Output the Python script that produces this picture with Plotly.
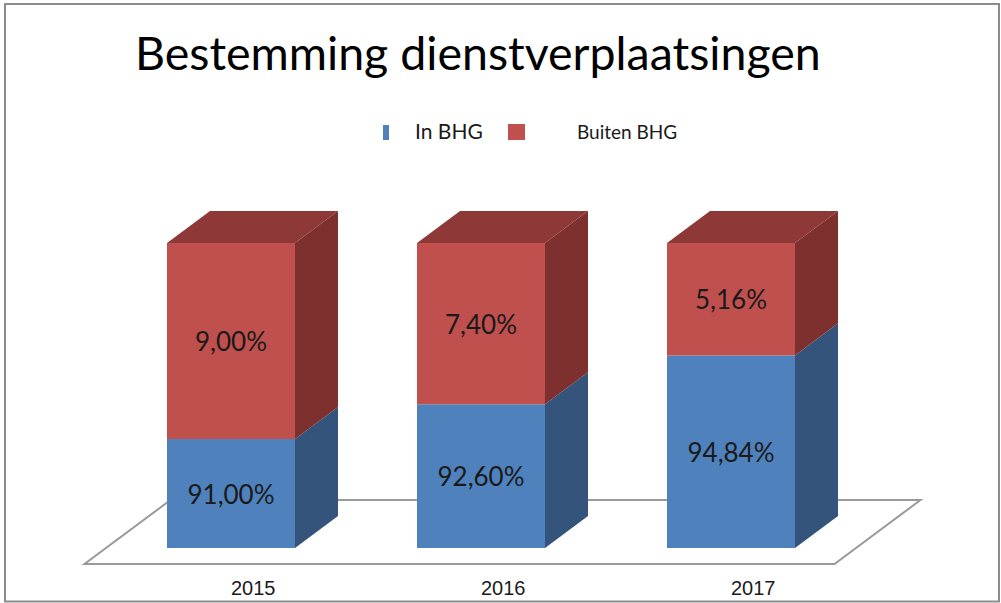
import plotly.graph_objects as go

years = ["2015", "2016", "2017"]
in_bhg = [91.00, 92.60, 94.84]
buiten_bhg = [9.00, 7.40, 5.16]
series_names = ["In BHG", "Buiten BHG"]
title_text = "Bestemming dienstverplaatsingen"

AXIS_MIN = 86.0          # value at the floor of the bars
BAR_W = 0.512            # bar width in category units
DX = 0.172               # 3D depth offset, category units
DY = 1.469               # 3D depth offset, value units

BLUE_FRONT, BLUE_SIDE = "#4F81BD", "#34547C"
RED_FRONT, RED_SIDE, RED_TOP = "#C0504D", "#7D302E", "#8E3937"


def fmt(v):
    return f"{v:.2f}".replace(".", ",") + "%"


xs = list(range(len(years)))
fig = go.Figure()

# front faces
label_font = dict(family="Lato", size=26, color="#1a1a1a")
fig.add_trace(go.Bar(
    x=xs, y=[v - AXIS_MIN for v in in_bhg], base=[AXIS_MIN] * len(xs), width=BAR_W,
    marker=dict(color=BLUE_FRONT, line=dict(width=0)), name=series_names[0],
    text=[fmt(v) for v in in_bhg], textposition="inside", insidetextanchor="middle",
    textangle=0, textfont=label_font, showlegend=False))
fig.add_trace(go.Bar(
    x=xs, y=buiten_bhg, base=in_bhg, width=BAR_W,
    marker=dict(color=RED_FRONT, line=dict(width=0)), name=series_names[1],
    text=[fmt(v) for v in buiten_bhg], textposition="inside", insidetextanchor="middle",
    textangle=0, textfont=label_font, showlegend=False))


def poly(px, py, color):
    fig.add_trace(go.Scatter(x=px + [px[0]], y=py + [py[0]], mode="lines",
                             line=dict(width=0, color=color), fill="toself",
                             fillcolor=color, hoverinfo="skip", showlegend=False))


for i, (b, r) in enumerate(zip(in_bhg, buiten_bhg)):
    xr = i + BAR_W / 2
    xl = i - BAR_W / 2
    top = b + r
    # side faces
    poly([xr, xr + DX, xr + DX, xr], [AXIS_MIN, AXIS_MIN + DY, b + DY, b], BLUE_SIDE)
    poly([xr, xr + DX, xr + DX, xr], [b, b + DY, top + DY, top], RED_SIDE)
    # top face
    poly([xl, xr, xr + DX, xl + DX], [top, top, top + DY, top + DY], RED_TOP)

# category labels
for i, y in enumerate(years):
    fig.add_annotation(x=i + DX / 2 + 0.004, y=AXIS_MIN - 1.84, text=y, showarrow=False,
                       font=dict(family="Liberation Sans", size=20, color="#1a1a1a"))

annotations = [
    dict(x=478, y=52, text=title_text, font=dict(family="Lato", size=46.5, color="#000000")),
    dict(x=449, y=130, text=series_names[0], font=dict(family="Lato", size=21, color="#1a1a1a")),
    dict(x=627, y=131, text=series_names[1], font=dict(family="Lato", size=19, color="#1a1a1a")),
]
for a in annotations:
    fig.add_annotation(x=a["x"] / 1001, y=1 - a["y"] / 603, xref="paper", yref="paper",
                       text=a["text"], showarrow=False, font=a["font"],
                       xanchor="center", yanchor="middle")

# floor parallelogram (behind the bars)
fx0, fx1 = -0.5, len(years) - 0.5
fy_front, fy_back = AXIS_MIN - 0.5 * DY, AXIS_MIN + 1.5 * DY
floor_pts = [(fx0 - 0.5 * DX, fy_front), (fx1 - 0.5 * DX, fy_front),
             (fx1 + 1.5 * DX, fy_back), (fx0 + 1.5 * DX, fy_back)]
floor_path = "M " + " L ".join(f"{px},{py}" for px, py in floor_pts) + " Z"

shapes = [
    dict(type="path", xref="x", yref="y", path=floor_path, layer="below",
         line=dict(color="#9a9a9a", width=2)),
    dict(type="rect", xref="paper", yref="paper", x0=5 / 1001, x1=999 / 1001,
         y0=1 - 601.5 / 603, y1=1 - 4 / 603, line=dict(color="#8c8c8c", width=2)),
    dict(type="rect", xref="paper", yref="paper", x0=383 / 1001, x1=389 / 1001,
         y0=1 - 140 / 603, y1=1 - 125 / 603, fillcolor=BLUE_FRONT, line=dict(width=0)),
    dict(type="rect", xref="paper", yref="paper", x0=508 / 1001, x1=525 / 1001,
         y0=1 - 140 / 603, y1=1 - 124 / 603, fillcolor=RED_FRONT, line=dict(width=0)),
]

fig.update_layout(
    width=1001, height=603, margin=dict(l=0, r=0, t=0, b=0),
    paper_bgcolor="white", plot_bgcolor="white", barmode="overlay",
    shapes=shapes, showlegend=False,
    xaxis=dict(range=[-0.924, 3.08], visible=False, fixedrange=True),
    yaxis=dict(range=[83.476, 111.149], visible=False, fixedrange=True),
)

fig.write_html("out.html", config={"displayModeBar": False},
               post_script="document.body.style.margin='0';document.body.style.overflow='hidden';")
